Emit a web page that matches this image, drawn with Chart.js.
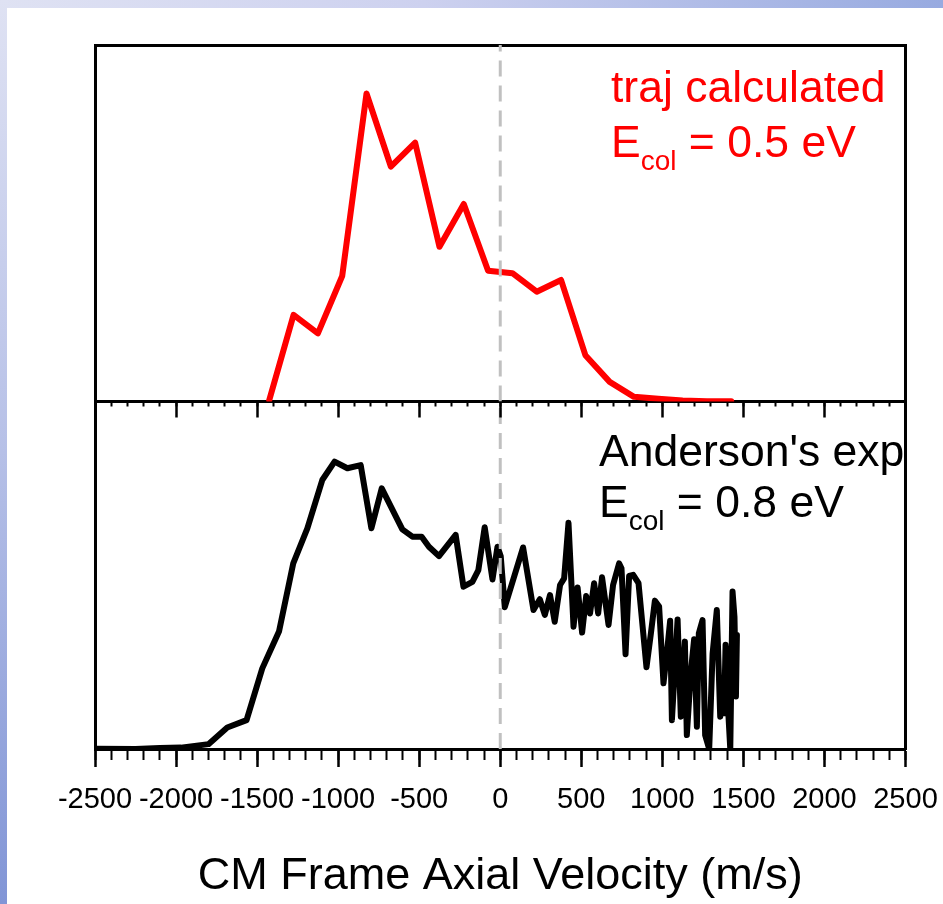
<!DOCTYPE html>
<html>
<head>
<meta charset="utf-8">
<title>CM Frame Axial Velocity</title>
<script src="https://cdn.jsdelivr.net/npm/chart.js@4.4.1/dist/chart.umd.min.js"></script>
<style>
html, body { margin: 0; padding: 0; }
body {
    width: 943px; height: 904px; overflow: hidden; position: relative;
    background: #fff; font-family: "Liberation Sans", Arial, sans-serif;
}
.edge-top { position: absolute; left: 0; top: 0; width: 943px; height: 8px;
    background: linear-gradient(to right, #dfe2f3, #cdd1ef 45%, #97aae0); }
.edge-left { position: absolute; left: 0; top: 0; width: 7px; height: 904px;
    background: linear-gradient(to bottom, #dfe2f3, #b6c0e7 50%, #8195d6); }
canvas { position: absolute; left: 0; top: 0; }
#bottomChart { z-index: 1; }
#topChart { z-index: 2; }
.note { position: absolute; z-index: 3; font-size: 44.5px; line-height: 1; white-space: nowrap; color: #000; }
.note.red { color: #ff0000; }
.note sub { font-size: 28px; vertical-align: -13px; line-height: 1; }
</style>
</head>
<body>
<div class="edge-top"></div>
<div class="edge-left"></div>
<canvas id="bottomChart" width="943" height="904"></canvas>
<canvas id="topChart" width="943" height="904"></canvas>
<div class="note red" style="left:611px;top:65px">traj calculated</div>
<div class="note red" style="left:611px;top:120px">E<sub>col</sub> = 0.5 eV</div>
<div class="note" style="left:599px;top:429px">Anderson's exp</div>
<div class="note" style="left:599px;top:480px">E<sub>col</sub> = 0.8 eV</div>
<script>
// x axis (m/s)
const tickValues = [-2500, -2000, -1500, -1000, -500, 0, 500, 1000, 1500, 2000, 2500];

// calculated (traj), E_col = 0.5 eV
const calcVelocity = [-1425, -1275, -1125, -975, -825, -675, -525, -375, -225, -75,
    75, 225, 375, 525, 675, 825, 975, 1125, 1275, 1425];
const calcIntensity = [0.4, 24.3, 19.1, 35.2, 86.4, 65.9, 72.6, 43.4, 55.4, 36.7,
    36.0, 30.8, 34.1, 13.0, 5.5, 1.3, 0.8, 0.3, 0.1, 0.05];

// Anderson's experiment, E_col = 0.8 eV
const expVelocity = [-2500, -2250, -2100, -1970, -1800, -1684, -1565, -1468, -1365, -1277,
    -1190, -1098, -1022, -943, -861, -795, -731, -604, -542, -485,
    -440, -378, -275, -227, -172, -135, -96, -48, -17, 3,
    28, 141, 205, 244, 275, 307, 336, 369, 394, 421,
    452, 477, 505, 530, 554, 579, 604, 628, 668, 696,
    733, 748, 773, 795, 820, 853, 902, 929, 954, 980,
    1007, 1032, 1048, 1059, 1094, 1114, 1139, 1151, 1176, 1196,
    1213, 1225, 1248, 1264, 1289, 1310, 1336, 1357, 1370, 1381,
    1390, 1398, 1405, 1419, 1433, 1445, 1454, 1460];
const expIntensity = [0.1, 0, 0.3, 0.4, 1.4, 6.2, 8.3, 23.2, 33.8, 53.4,
    63.5, 77.4, 82.7, 80.8, 81.7, 63.5, 75.0, 63.2, 61.1, 61.1,
    58.2, 55.5, 61.6, 46.7, 48.1, 51.5, 63.8, 48.8, 58.2, 55.5,
    40.8, 58.0, 40.0, 43.1, 38.6, 44.3, 36.6, 47.2, 49.1, 65.1,
    35.2, 46.5, 33.5, 44.0, 39.0, 47.7, 39.0, 49.4, 35.7, 47.2,
    53.4, 52.0, 27.3, 49.8, 50.1, 47.7, 23.5, 33.1, 42.7, 41.0,
    18.9, 29.4, 36.9, 8.3, 37.3, 9.3, 30.9, 4.0, 22.2, 31.6,
    6.4, 33.3, 37.1, 4.0, 0, 27.5, 40.0, 9.3, 20.0, 10.3,
    30.0, 25.6, 12.0, 0, 45.3, 38.0, 15.1, 32.8];

// dashed marker at zero velocity, spanning the full y range
const zeroVelocity = 0;
const yRange = [0, 100];

Chart.defaults.font.family = '"Liberation Sans", Arial, sans-serif';
Chart.defaults.color = '#000';

function pairs(xs, ys) {
    return xs.map((x, i) => ({ x: x, y: ys[i] }));
}

function zeroLine() {
    return {
        data: yRange.map(y => ({ x: zeroVelocity, y: y })),
        borderColor: '#c0c0c0',
        borderWidth: 3,
        borderDash: [16, 9],
        pointRadius: 0,
        order: -1,
        xAxisID: 'x',
        yAxisID: 'y'
    };
}

function frameY(position) {
    return {
        type: 'linear', axis: 'y', position: position, min: yRange[0], max: yRange[1],
        ticks: { display: false },
        grid: { display: false },
        border: { color: '#000', width: 3 },
        afterFit: s => { s.width = 0; s.paddingTop = 0; s.paddingBottom = 0; }
    };
}

function minorX(len) {
    return {
        type: 'linear', axis: 'x', position: 'bottom', min: -2500, max: 2500, weight: 0,
        ticks: { display: false, stepSize: 100 },
        grid: { drawOnChartArea: false, drawTicks: true, tickLength: len, tickColor: '#000', tickWidth: 2 },
        border: { color: '#000', width: 3 },
        afterFit: s => { s.height = 0; s.paddingLeft = 0; s.paddingRight = 0; }
    };
}

function majorX(len, showLabels, height) {
    return {
        type: 'linear', axis: 'x', position: 'bottom', min: -2500, max: 2500, weight: 1,
        afterBuildTicks: s => { s.ticks = tickValues.map(v => ({ value: v })); },
        ticks: {
            display: showLabels, autoSkip: false, maxRotation: 0, minRotation: 0,
            padding: 16, color: '#000', font: { size: 29 },
            callback: v => String(v)
        },
        grid: { drawOnChartArea: false, drawTicks: true, tickLength: len, tickColor: '#000', tickWidth: 2.5 },
        border: { color: '#000', width: 3 },
        title: {
            display: showLabels, text: 'CM Frame Axial Velocity (m/s)',
            color: '#000', font: { size: 45 }, padding: 0
        },
        afterFit: s => { s.height = height; s.paddingLeft = 0; s.paddingRight = 0; }
    };
}

// top panel: calculated
new Chart(document.getElementById('topChart'), {
    type: 'line',
    data: {
        datasets: [
            zeroLine(),
            {
                data: pairs(calcVelocity, calcIntensity),
                borderColor: '#ff0000',
                borderWidth: 6,
                borderJoinStyle: 'round',
                borderCapStyle: 'round',
                pointRadius: 0,
                tension: 0,
                xAxisID: 'x',
                yAxisID: 'y'
            }
        ]
    },
    options: {
        responsive: false,
        animation: false,
        layout: { padding: { left: 95, right: 37.5, top: 45, bottom: 482.5 } },
        plugins: { legend: { display: false }, tooltip: { enabled: false } },
        scales: {
            x: majorX(16, false, 20),
            xMinor: minorX(5),
            xTop: {
                type: 'linear', axis: 'x', position: 'top', min: -2500, max: 2500,
                ticks: { display: false },
                grid: { display: false },
                border: { color: '#000', width: 3 },
                afterFit: s => { s.height = 0; s.paddingLeft = 0; s.paddingRight = 0; }
            },
            y: frameY('left'),
            yRight: frameY('right')
        }
    }
});

// bottom panel: experiment
new Chart(document.getElementById('bottomChart'), {
    type: 'line',
    data: {
        datasets: [
            zeroLine(),
            {
                data: pairs(expVelocity, expIntensity),
                borderColor: '#000000',
                borderWidth: 6,
                borderJoinStyle: 'round',
                borderCapStyle: 'round',
                pointRadius: 0,
                tension: 0,
                xAxisID: 'x',
                yAxisID: 'y'
            }
        ]
    },
    options: {
        responsive: false,
        animation: false,
        layout: { padding: { left: 95, right: 37.5, top: 401.5, bottom: 0 } },
        plugins: { legend: { display: false }, tooltip: { enabled: false } },
        scales: {
            x: majorX(18, true, 155),
            xMinor: minorX(11),
            y: frameY('left'),
            yRight: frameY('right')
        }
    }
});
</script>
</body>
</html>
